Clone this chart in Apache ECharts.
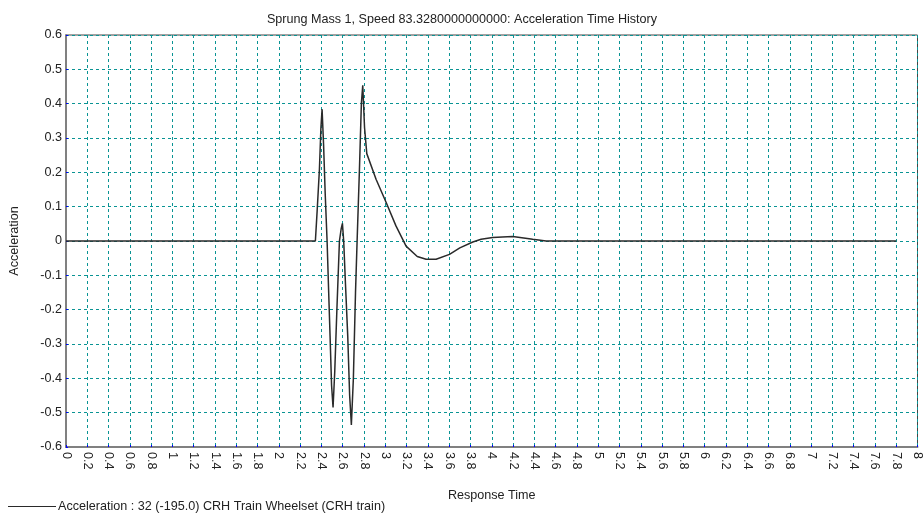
<!DOCTYPE html>
<html>
<head>
<meta charset="utf-8">
<script src="https://cdn.jsdelivr.net/npm/echarts@6/dist/echarts.min.js"></script>
<style>html,body{margin:0;padding:0;background:#fff;}#c{width:924px;height:519px;}</style>
</head>
<body>
<div id="c"></div>
<script>
var titleText = 'Sprung Mass 1, Speed 83.3280000000000: Acceleration Time History';
var seriesName = 'Acceleration : 32 (-195.0) CRH Train Wheelset (CRH train)';
var timeValues = [0, 2.343, 2.36, 2.381, 2.395, 2.406, 2.42, 2.435, 2.453, 2.468, 2.481, 2.495, 2.509, 2.525, 2.545, 2.569, 2.585, 2.597, 2.609, 2.625, 2.647, 2.665, 2.681, 2.70, 2.72, 2.735, 2.757, 2.775, 2.788, 2.805, 2.826, 2.913, 3.008, 3.1, 3.195, 3.3, 3.383, 3.477, 3.603, 3.7, 3.822, 3.9, 4.009, 4.1, 4.197, 4.3, 4.385, 4.51, 4.8, 7.8];
var accelValues = [0, 0, 0.09, 0.209, 0.33, 0.384, 0.28, 0.14, 0, -0.15, -0.277, -0.42, -0.485, -0.38, -0.2, 0, 0.035, 0.0515, 0, -0.12, -0.277, -0.45, -0.536, -0.40, -0.15, 0, 0.209, 0.40, 0.4535, 0.33, 0.2545, 0.18, 0.112, 0.044, -0.015, -0.045, -0.053, -0.053, -0.039, -0.02, -0.003, 0.005, 0.0099, 0.012, 0.0128, 0.009, 0.005, 0, 0, 0];

var pts = timeValues.map(function (t, i) { return [t, accelValues[i]]; });
var font = '"Liberation Sans", Arial, sans-serif';
var chart = echarts.init(document.getElementById('c'), null, {renderer: 'canvas'});
chart.setOption({
  animation: false,
  backgroundColor: '#fff',
  textStyle: {fontFamily: font},
  title: {
    text: titleText, left: 'center', top: 8,
    textStyle: {fontSize: 12.6, fontWeight: 'normal', color: '#222', fontFamily: font}
  },
  legend: {
    left: 3, bottom: 1, icon: 'rect', itemWidth: 48, itemHeight: 1, itemGap: 8,
    textStyle: {fontSize: 12.6, color: '#222', fontFamily: font, padding: [0, 0, 0, -3]},
    data: [seriesName]
  },
  grid: {left: 66, right: 6, top: 35, bottom: 72, show: true, borderColor: '#444', borderWidth: 1, backgroundColor: 'transparent'},
  xAxis: {
    type: 'value', min: 0, max: 8, interval: 0.2,
    name: 'Response Time', nameLocation: 'middle', nameGap: 42,
    nameTextStyle: {fontSize: 12.6, color: '#222', fontFamily: font},
    axisLine: {show: true, onZero: false, lineStyle: {color: '#808080', width: 2}},
    axisTick: {show: true, inside: true, length: 2, lineStyle: {color: '#0000ff'}},
    axisLabel: {rotate: -90, fontSize: 12.6, color: '#222', margin: 5, fontFamily: font},
    splitLine: {show: true, lineStyle: {color: '#0a9494', type: [3, 3], width: 1}}
  },
  yAxis: {
    type: 'value', min: -0.6, max: 0.6, interval: 0.1,
    name: 'Acceleration', nameLocation: 'middle', nameGap: 45,
    nameTextStyle: {fontSize: 12.6, color: '#222', fontFamily: font},
    axisLine: {show: true, onZero: false, lineStyle: {color: '#808080', width: 2}},
    axisTick: {show: true, inside: true, length: 2, lineStyle: {color: '#0000ff'}},
    axisLabel: {fontSize: 12.6, color: '#222', margin: 4, fontFamily: font},
    splitLine: {show: true, lineStyle: {color: '#0a9494', type: [3, 3], width: 1}}
  },
  series: [{
    name: seriesName, type: 'line', data: pts, showSymbol: false, smooth: false,
    lineStyle: {color: '#2a2a2a', width: 1.5}, itemStyle: {color: '#2a2a2a'}
  }]
});
</script>
</body>
</html>
